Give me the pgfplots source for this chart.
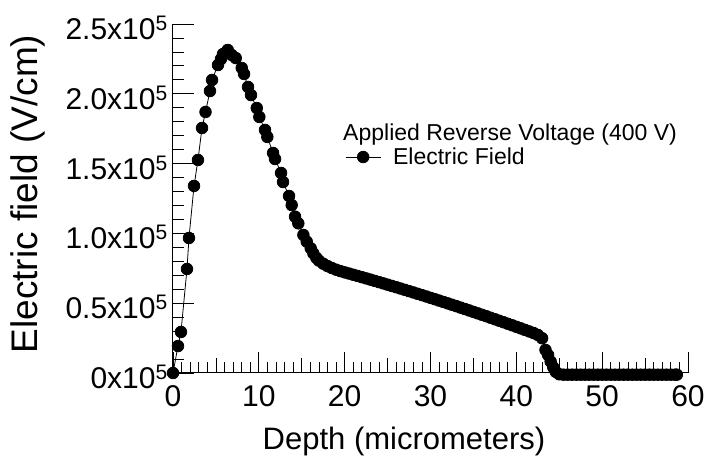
\documentclass[border=0pt]{standalone}
\usepackage{fontspec}
\setmainfont{Liberation Sans}
\usepackage{pgfplots}
\pgfplotsset{compat=1.18}

\newcommand{\tfs}{\fontsize{30}{36}\selectfont}
\newcommand{\sq}{x10\textsuperscript{5}}

\begin{document}
\begin{tikzpicture}
\begin{axis}[
  at={(0,0)}, anchor=origin,
  scale only axis, width=515pt, height=349pt,
  xmin=0, xmax=60, ymin=0, ymax=250000,
  clip=false,
  axis lines=left, axis line style={-, line width=1pt, black},
  tick align=inside,
  tick style={line width=0.8pt, black},
  major tick length=21pt, minor tick length=11pt,
  xtick={0,10,...,60}, minor x tick num=9,
  extra x ticks={5,15,...,55}, extra x tick labels={},
  extra x tick style={major tick length=15pt},
  ytick={0,50000,...,250000}, minor y tick num=4,
  scaled y ticks=false,
  yticklabels={0\sq, 0.5\sq, 1.0\sq, 1.5\sq, 2.0\sq, 2.5\sq},
  /pgf/number format/assume math mode=true,
  xticklabel style={font=\tfs, inner ysep=12pt},
  yticklabel style={font=\tfs, inner xsep=5pt, yshift=-4pt},
  xlabel={Depth (micrometers)},
  xlabel style={font=\fontsize{31}{37}\selectfont, at={(axis description cs:0.4485,-0.2206)}, anchor=base},
  ylabel={Electric field (V/cm)},
  ylabel style={font=\fontsize{37}{44}\selectfont, at={(axis description cs:-0.264,0.513)}, anchor=base},
  legend style={at={(axis cs:20.05,154700)}, anchor=west, draw=none, fill=none,
    inner sep=0pt, column sep=12pt, font=\fontsize{23}{28}\selectfont,
    nodes={inner sep=0pt}},
  legend image code/.code={\draw[mark repeat=2, mark phase=2, #1]
    plot coordinates {(0pt,0pt) (17.5pt,0pt) (35pt,0pt)};},
]
\addplot[black, line width=0.8pt, mark=*, mark size=5.8pt, mark options={solid, fill=black}]
  coordinates {
  (0,0) (0.58,19300) (0.93,29400) (1.63,74500) (1.86,96700) (2.45,134000)
  (2.91,152600) (3.38,175500) (3.79,187000) (4.31,202000) (4.55,209900)
  (5.24,220600) (5.59,224900) (5.83,228500) (6.38,231400) (6.84,227800)
  (7.31,225600) (8.01,218500) (8.28,214200) (8.74,204900) (9.09,199100)
  (9.76,189800) (10.06,183400) (10.72,174100) (10.99,169100) (11.66,157600)
  (11.89,153300) (12.59,143300) (12.82,136800) (13.52,126800) (13.83,120300)
  (14.22,112000) (14.60,107200) (15.19,98900) (15.58,94100) (16.05,89300)
  (16.35,85700) (16.7,82500) (17.0,80500) (17.5,78300) (18.0,76600)
  (18.5,75200) (19.0,74000) (19.5,73000) (20.0,72100) (20.5,71250)
  (21.0,70390) (21.5,69520) (22.0,68650) (22.5,67770) (23.0,66890)
  (23.5,66000) (24.0,65100) (24.5,64200) (25.0,63290) (25.5,62370)
  (26.0,61450) (26.5,60520) (27.0,59590) (27.5,58650) (28.0,57700)
  (28.5,56750) (29.0,55790) (29.5,54820) (30.0,53850) (30.5,52870)
  (31.0,51890) (31.5,50900) (32.0,49900) (32.5,48900) (33.0,47890)
  (33.5,46870) (34.0,45850) (34.5,44820) (35.0,43790) (35.5,42750)
  (36.0,41700) (36.5,40650) (37.0,39590) (37.5,38520) (38.0,37450)
  (38.5,36370) (39.0,35290) (39.5,34200) (40.0,33100) (40.5,32000)
  (41.0,30890) (41.5,29770) (42.0,28650) (42.5,27300) (43.0,24900)
  (43.4,16500) (43.7,12900) (44.0,8200) (44.3,4100) (44.6,800)
  (45.0,-900) (45.5,-1200) (46.0,-1200) (46.5,-1200) (47.0,-1200)
  (47.5,-1200) (48.0,-1200) (48.5,-1200) (49.0,-1200) (49.5,-1200)
  (50.0,-1200) (50.5,-1200) (51.0,-1200) (51.5,-1200) (52.0,-1200)
  (52.5,-1200) (53.0,-1200) (53.5,-1200) (54.0,-1200) (54.5,-1200)
  (55.0,-1200) (55.5,-1200) (56.0,-1200) (56.5,-1200) (57.0,-1200)
  (57.5,-1200) (58.0,-1200) (58.5,-1200) (58.7,-1200)
  };
\addlegendentry{Electric Field}
\node[anchor=base west, font=\fontsize{23}{28}\selectfont, inner sep=0pt]
  at (axis cs:19.81,166900) {Applied Reverse Voltage (400 V)};
\end{axis}
\pgfresetboundingbox
\path (-173pt,-95pt) rectangle (532pt,373pt);
\end{tikzpicture}
\end{document}
